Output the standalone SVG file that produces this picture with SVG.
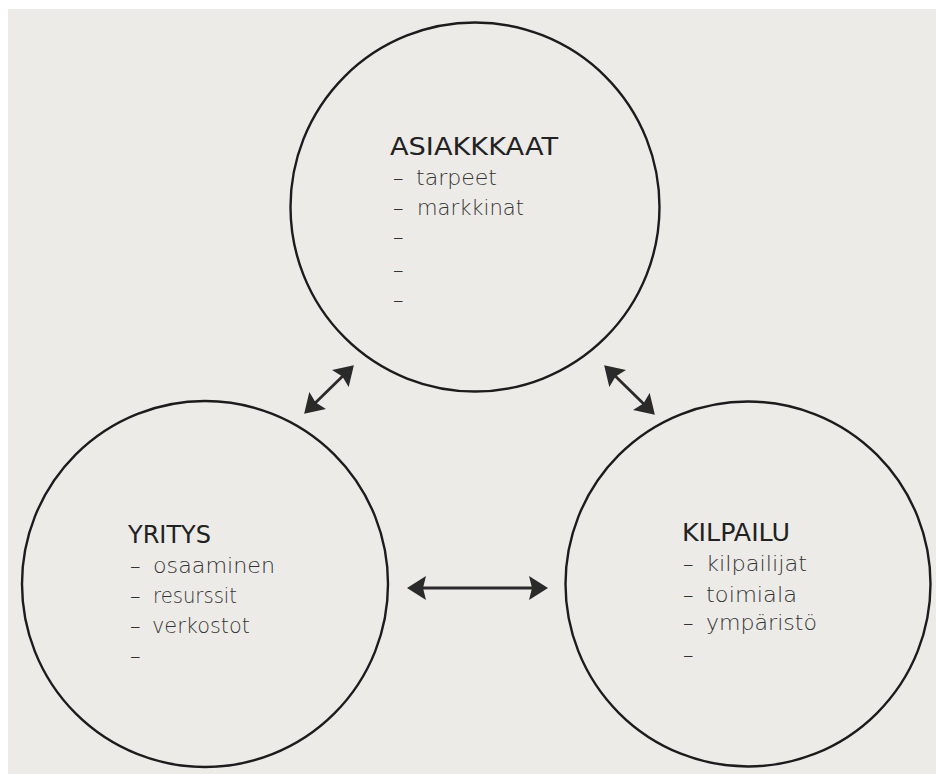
<svg xmlns="http://www.w3.org/2000/svg" width="936" height="774" viewBox="0 0 936 774">
  <style>
    .circle { fill: none; stroke: #1c1c1c; stroke-width: 2.4; }
    .title { font-family: "DejaVu Sans", "Liberation Sans", sans-serif; font-size: 25px; fill: #222222; }
    .item { font-family: "DejaVu Sans", "Liberation Sans", sans-serif; font-size: 21px; font-weight: 200; fill: #333333; }
    .conn { stroke: #2a2a2a; stroke-width: 2.8; fill: none; marker-start: url(#head); marker-end: url(#head); }
  </style>
  <defs>
    <marker id="head" markerUnits="userSpaceOnUse" viewBox="0 0 19 24" markerWidth="19" markerHeight="24" refX="15" refY="12" orient="auto-start-reverse">
      <path d="M0,0 L19,12 L0,24 L3,12 z" fill="#2a2a2a"/>
    </marker>
  </defs>
  <rect x="0" y="0" width="936" height="774" fill="#ffffff"/>
  <rect x="8" y="9" width="928" height="765" fill="#ecebe7"/>

  <g id="asiakkaat">
    <circle class="circle" cx="475" cy="207" r="184.5"/>
    <text class="title" x="390" y="155" textLength="168" lengthAdjust="spacingAndGlyphs">ASIAKKKAAT</text>
    <text class="item" x="393" y="185">–</text>
    <text class="item" x="416" y="185" textLength="81" lengthAdjust="spacingAndGlyphs">tarpeet</text>
    <text class="item" x="393" y="215">–</text>
    <text class="item" x="417" y="215" textLength="107" lengthAdjust="spacingAndGlyphs">markkinat</text>
    <text class="item" x="393" y="244">–</text>
    <text class="item" x="393" y="277">–</text>
    <text class="item" x="393" y="307">–</text>
  </g>

  <g id="yritys">
    <circle class="circle" cx="205" cy="584" r="183"/>
    <text class="title" x="128" y="543" textLength="83" lengthAdjust="spacingAndGlyphs">YRITYS</text>
    <text class="item" x="130" y="573">–</text>
    <text class="item" x="153" y="573" textLength="122" lengthAdjust="spacingAndGlyphs">osaaminen</text>
    <text class="item" x="130" y="603">–</text>
    <text class="item" x="153" y="603" textLength="84" lengthAdjust="spacingAndGlyphs">resurssit</text>
    <text class="item" x="130" y="633">–</text>
    <text class="item" x="152" y="633" textLength="98" lengthAdjust="spacingAndGlyphs">verkostot</text>
    <text class="item" x="130" y="663">–</text>
  </g>

  <g id="kilpailu">
    <circle class="circle" cx="748" cy="584" r="182.5"/>
    <text class="title" x="682" y="541" textLength="108" lengthAdjust="spacingAndGlyphs">KILPAILU</text>
    <text class="item" x="683" y="571">–</text>
    <text class="item" x="706" y="571" textLength="101" lengthAdjust="spacingAndGlyphs">kilpailijat</text>
    <text class="item" x="683" y="602">–</text>
    <text class="item" x="706" y="602" textLength="91" lengthAdjust="spacingAndGlyphs">toimiala</text>
    <text class="item" x="683" y="630">–</text>
    <text class="item" x="706" y="630" textLength="111" lengthAdjust="spacingAndGlyphs">ympäristö</text>
    <text class="item" x="683" y="662">–</text>
  </g>

  <g id="connectors">
    <line class="conn" x1="307" y1="411" x2="351" y2="368"/>
    <line class="conn" x1="607" y1="368" x2="652" y2="412"/>
    <line class="conn" x1="411" y1="588" x2="544" y2="588"/>
  </g>
</svg>
